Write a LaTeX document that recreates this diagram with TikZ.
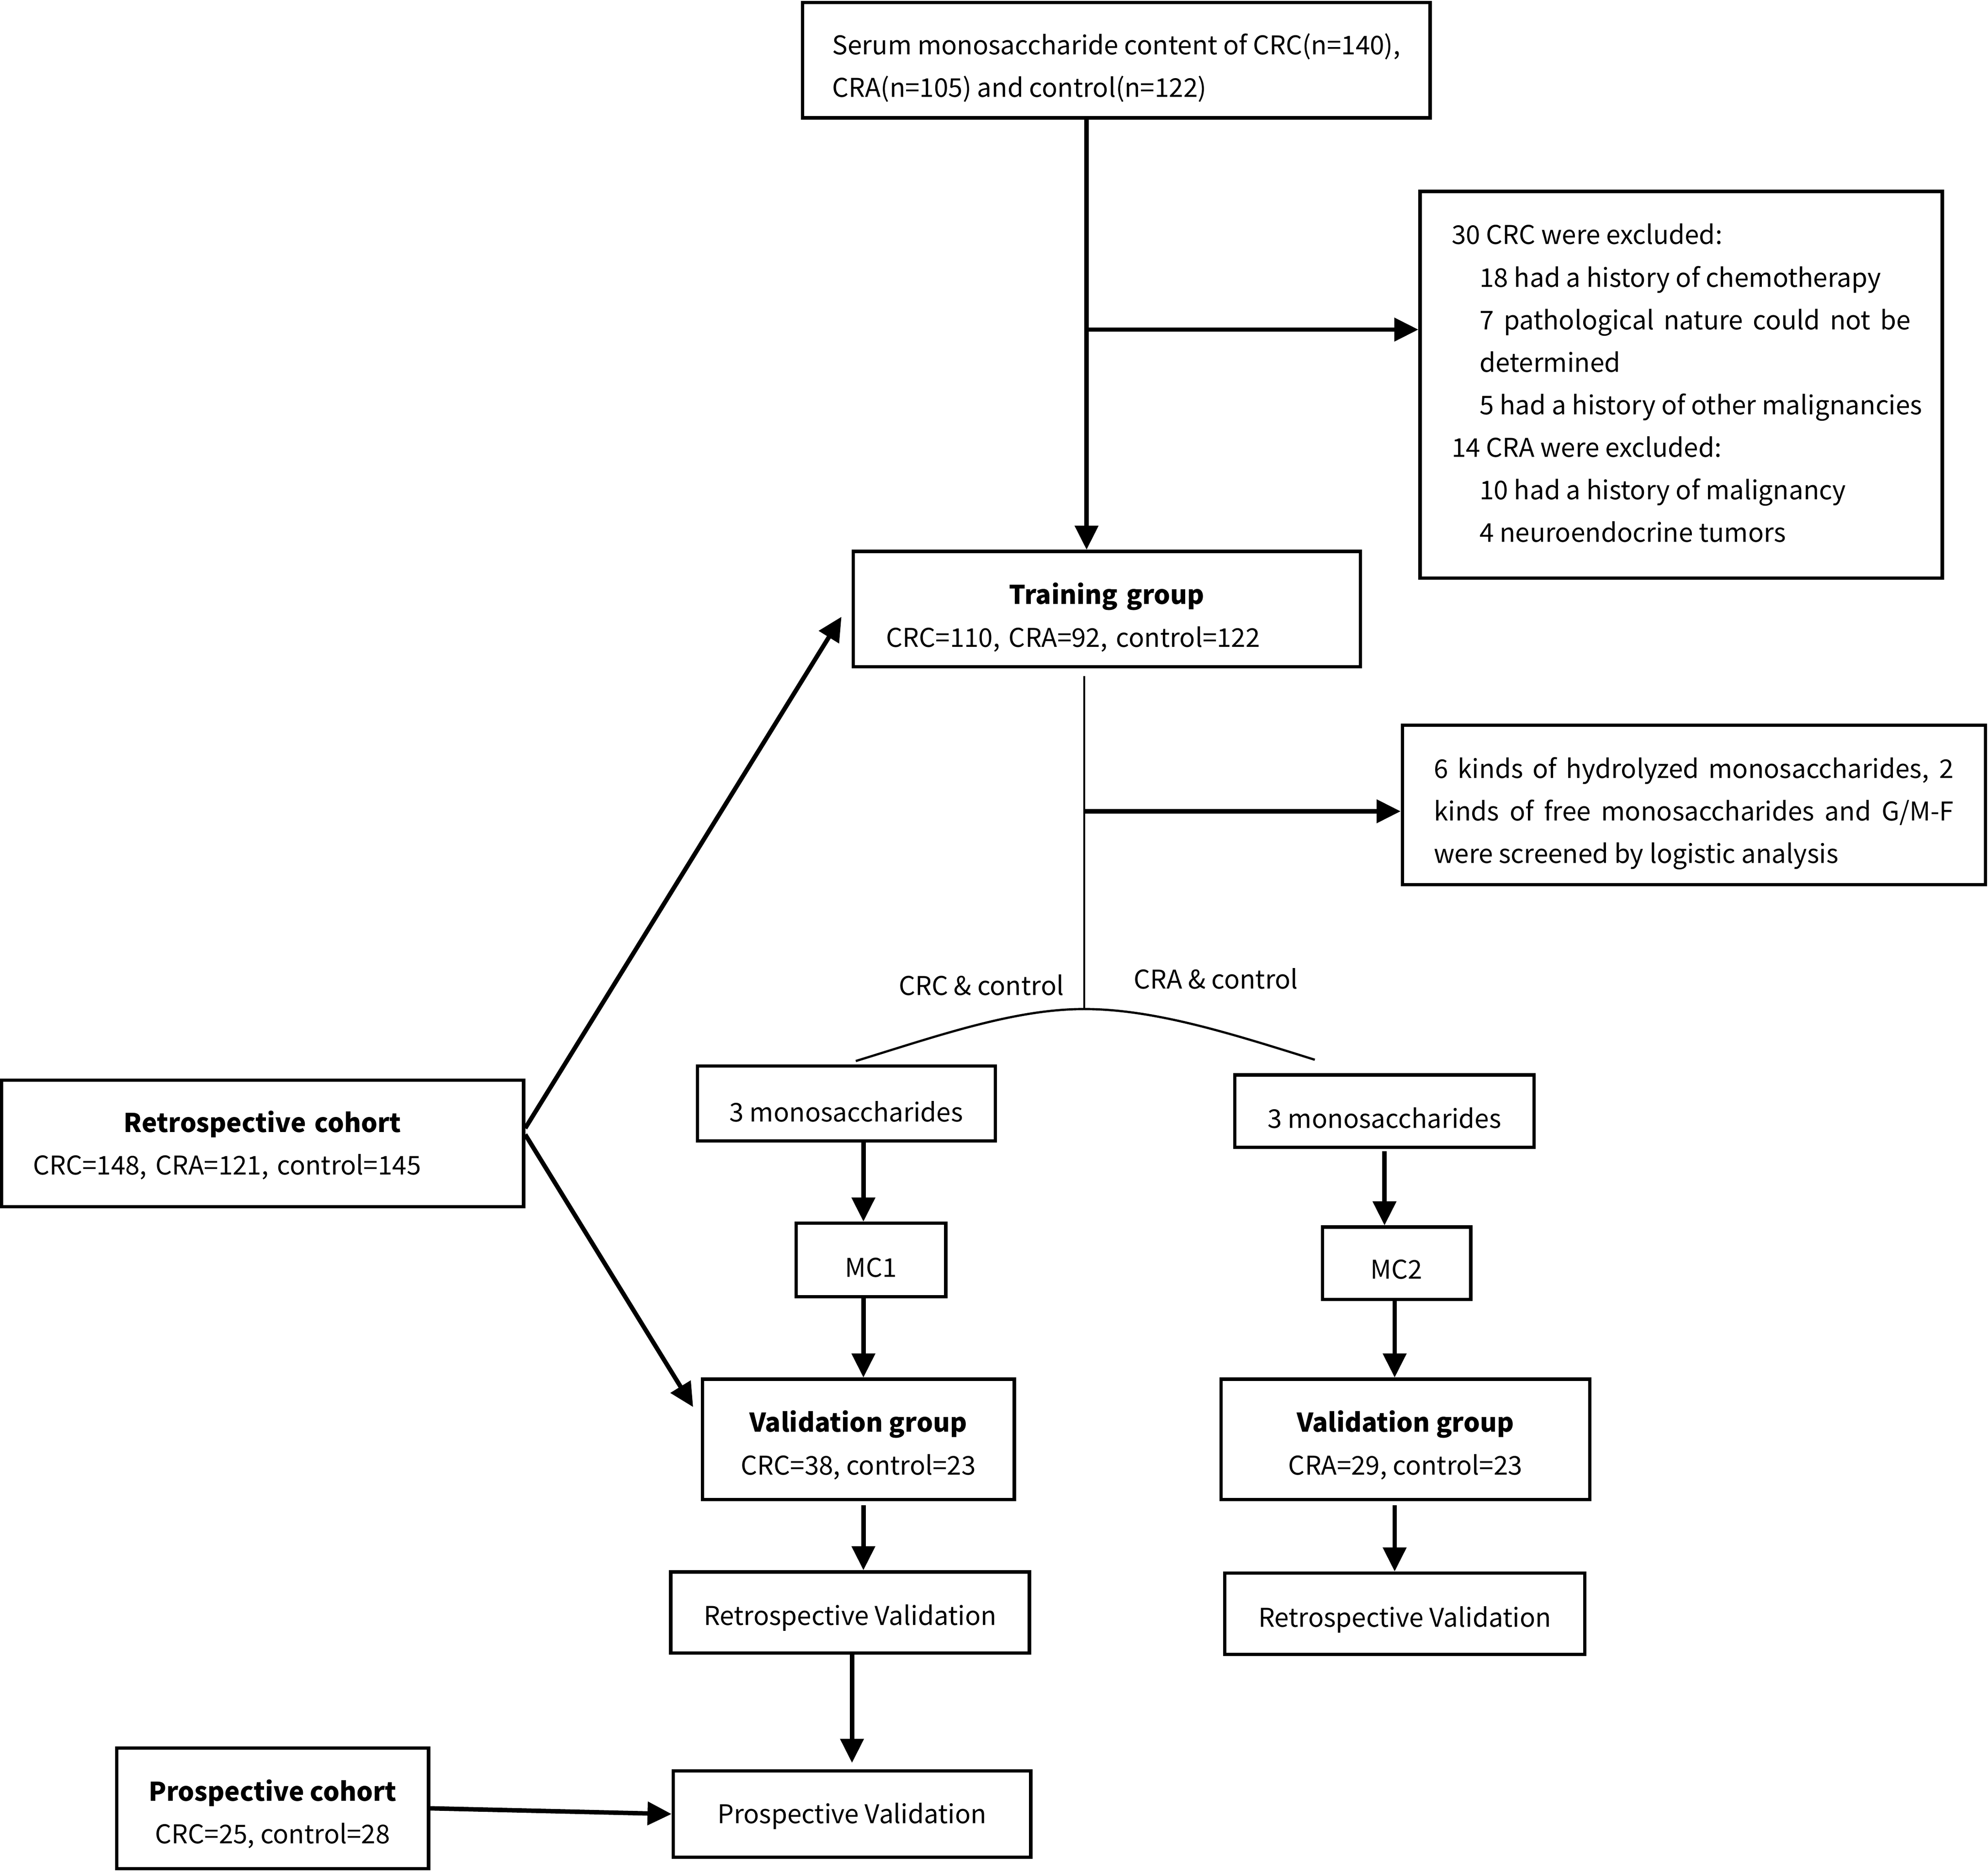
\documentclass[tikz,border=0pt]{standalone}
\usepackage{fontspec}
\setmainfont{Noto Sans CJK SC}
\usetikzlibrary{arrows.meta,calc}
\newcommand{\tstr}[1]{\rule{0pt}{#1}}
\newcommand{\bstr}{\rule[-0.3cm]{0pt}{0pt}}
\begin{document}
\begin{tikzpicture}[x=0.02cm,y=-0.02cm,
  every node/.style={font=\fontsize{11.6}{19.1}\selectfont},
  box/.style={draw, line width=1.5pt, rectangle, inner sep=0pt, align=center},
  arr/.style={line width=2pt, -{Triangle[length=0.38cm,width=0.36cm]}},
  thinline/.style={line width=0.8pt},
  arcline/.style={line width=1pt}]
\useasboundingbox (0,0) rectangle (1568,1477.2);

% boxes
\node[box, minimum width=9.9cm, minimum height=1.82cm, align=left] (top) at (880.5,47.5)
  {\tstr{0.794cm}Serum monosaccharide content of CRC(n=140),\\CRA(n=105) and control(n=122)\bstr};
\node[box, minimum width=8.24cm, minimum height=6.1cm, align=left] (excl) at (1326,303.5)
  {\tstr{0.569cm}30 CRC were excluded:\\
   \hspace*{0.44cm}18 had a history of chemotherapy\\
   \hspace*{0.44cm}\makebox[6.8cm][s]{7 pathological nature could not be}\\
   \hspace*{0.44cm}determined\\
   \hspace*{0.44cm}\makebox[6.8cm][l]{5 had a history of other malignancies}\\
   14 CRA were excluded:\\
   \hspace*{0.44cm}10 had a history of malignancy\\
   \hspace*{0.44cm}4 neuroendocrine tumors\bstr};
\node[box, minimum width=8cm, minimum height=1.82cm, text width=6.96cm] (train) at (873,480.5)
  {\tstr{0.822cm}\textbf{Training group}\\\makebox[6.96cm][l]{CRC=110, CRA=92, control=122\bstr}};
\node[box, minimum width=9.2cm, minimum height=2.52cm, align=left] (hydro) at (1336,635)
  {\tstr{0.796cm}\makebox[8.2cm][s]{6 kinds of hydrolyzed monosaccharides, 2}\\
   \makebox[8.2cm][s]{kinds of free monosaccharides and G/M-F}\\
   were screened by logistic analysis\bstr};
\node[box, minimum width=8.24cm, minimum height=2cm, text width=7.24cm] (retro) at (207,902)
  {\tstr{0.614cm}\textbf{Retrospective cohort}\\\makebox[7.24cm][l]{CRC=148, CRA=121, control=145\bstr}};
\node[box, minimum width=4.7cm, minimum height=1.1cm] (m3l) at (667.5,870.5) {\tstr{0.88cm}\bstr 3 monosaccharides};
\node[box, minimum width=4.72cm, minimum height=1.14cm] (m3r) at (1092,876.5) {\tstr{0.84cm}\bstr 3 monosaccharides};
\node[box, minimum width=2.36cm, minimum height=1.16cm] (mc1) at (687,994) {\tstr{0.84cm}\bstr MC1};
\node[box, minimum width=2.34cm, minimum height=1.14cm] (mc2) at (1101.5,996.5) {\tstr{0.8cm}\bstr MC2};
\node[box, minimum width=4.92cm, minimum height=1.9cm] (vall) at (677,1135.5)
  {\tstr{0.742cm}\textbf{Validation group}\\CRC=38, control=23\bstr};
\node[box, minimum width=5.82cm, minimum height=1.9cm] (valr) at (1108.5,1135.5)
  {\tstr{0.742cm}\textbf{Validation group}\\CRA=29, control=23\bstr};
\node[box, minimum width=5.66cm, minimum height=1.28cm] (rvl) at (670.5,1272) {\tstr{0.7cm}\bstr Retrospective Validation};
\node[box, minimum width=5.68cm, minimum height=1.28cm] (rvr) at (1108,1273) {\tstr{0.72cm}\bstr Retrospective Validation};
\node[box, minimum width=5.64cm, minimum height=1.36cm] (pv) at (672,1431) {\tstr{0.604cm}\bstr Prospective Validation};
\node[box, minimum width=4.92cm, minimum height=1.9cm] (pc) at (215,1426.5)
  {\tstr{0.738cm}\textbf{Prospective cohort}\\CRC=25, control=28\bstr};

% labels
\node[anchor=base] (lcrc) at (774,785) {CRC \& control};
\node[anchor=base] (lcra) at (959,780) {CRA \& control};

% connectors
\coordinate (j1) at (857,260);
\draw[arr] (top.south -| j1) -- (train.north -| j1);
\draw[arr] (j1) -- (excl.west |- j1);
\coordinate (j2) at (855,640);
\coordinate (apex) at (855,796);
\draw[thinline] ($(train.south -| j2)+(0,6)$) -- (apex);
\draw[arr] (j2) -- (hydro.west |- j2);
\coordinate (al) at (675,837);
\coordinate (ar) at (1037,836);
\draw[arcline] (al) .. controls (740,817) and (800,796) .. (apex) .. controls (910,796) and (970,815) .. (ar);

\coordinate (xl) at (681,0);
\coordinate (xr) at (1100,0);
\coordinate (xr1) at (1092,0);
\coordinate (xp) at (672,0);
\draw[arr] (m3l.south -| xl) -- (mc1.north -| xl);
\draw[arr] (mc1.south -| xl) -- (vall.north -| xl);
\draw[arr] ($(vall.south -| xl)+(0,3)$) -- (rvl.north -| xl);
\draw[arr] ($(m3r.south -| xr1)+(0,2)$) -- (mc2.north -| xr1);
\draw[arr] (mc2.south -| xr) -- (valr.north -| xr);
\draw[arr] ($(valr.south -| xr)+(0,3)$) -- (rvr.north -| xr);
\draw[arr] (rvl.south -| xp) -- ($(pv.north -| xp)+(0,-5)$);
\draw[arr] (pc.east) -- (pv.west);
\draw[arr] ($(retro.east)+(0,-12)$) -- ($(train.west)+(-8,6)$);
\draw[arr] ($(retro.east)+(0,-7)$) -- ($(vall.west)+(-6,-25.5)$);
\end{tikzpicture}
\end{document}
